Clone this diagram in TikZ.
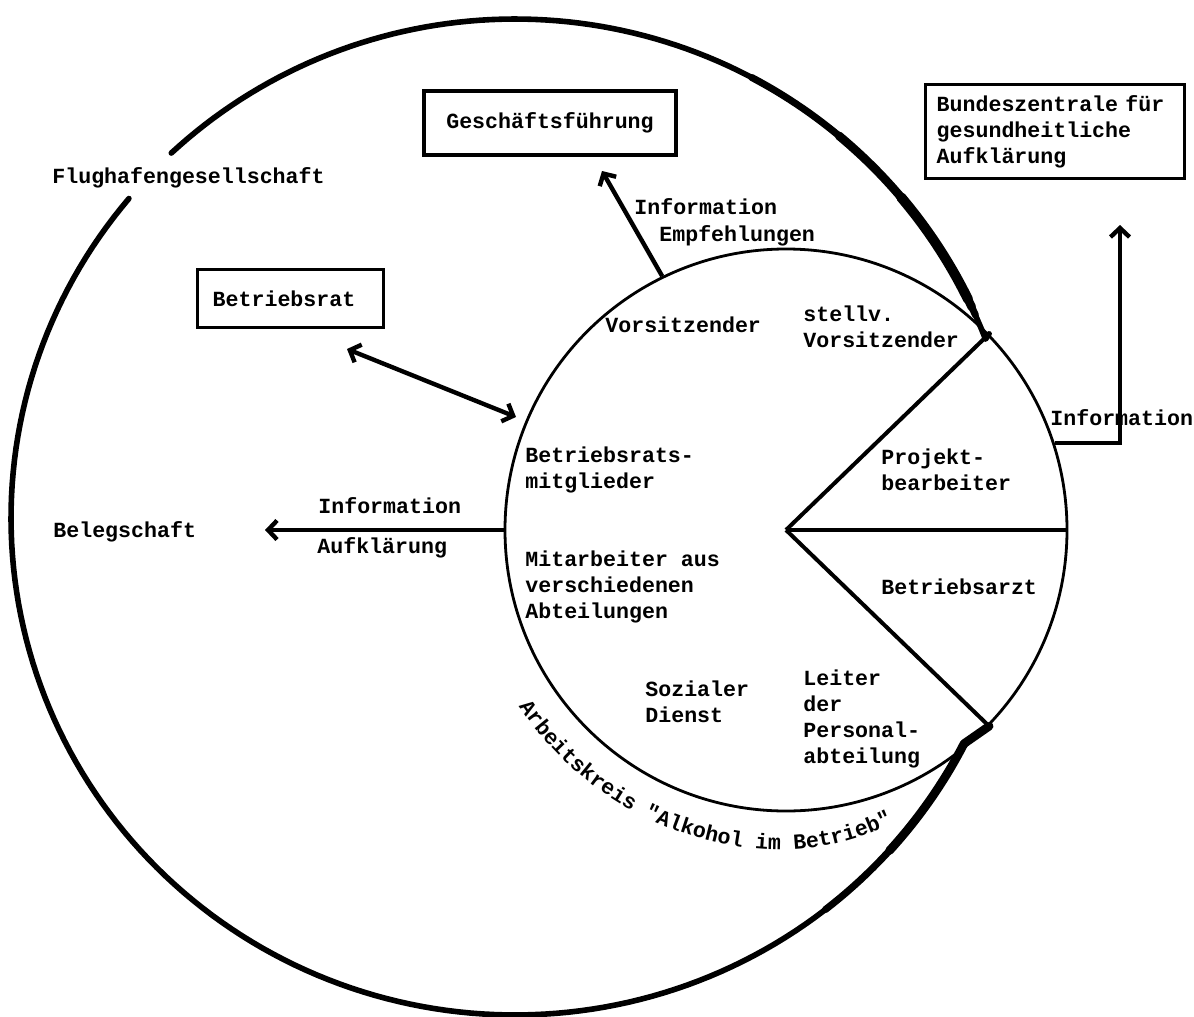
\documentclass[tikz,border=0pt]{standalone}
\usepackage{fontspec}
\newfontfamily\tw{Liberation Mono}
\usetikzlibrary{arrows.meta,decorations.text}
\tikzset{
  lbl/.style={font=\tw\bfseries\fontsize{10.8pt}{13pt}\selectfont, inner sep=0pt, anchor=base west, align=left},
  boxnode/.style={draw, line width=1.7pt, font=\tw\bfseries\fontsize{10.8pt}{13pt}\selectfont, align=left},
  outerline/.style={line width=2.8pt, line cap=round, line join=round},
  pieline/.style={line width=2pt},
  conn/.style={line width=2.2pt, -{Straight Barb[length=4.5pt,width=9.5pt]}},
  conntwo/.style={line width=2.2pt, {Straight Barb[length=4.5pt,width=9.5pt]}-{Straight Barb[length=4.5pt,width=9.5pt]}}
}
\begin{document}
\begin{tikzpicture}[x=0.5pt,y=-0.5pt]
\useasboundingbox (0,0) rectangle (1194,1017);

% inner circle (Arbeitskreis)
\node[circle, draw, line width=1.4pt, minimum size=281pt, inner sep=0pt] (ak) at (786,530) {};

% outer boundary (Flughafengesellschaft), thicker towards the right ends
\draw[outerline] (ak.44) -- plot[domain=21:133, samples=90] ({515+504*cos(\x)},{518-499*sin(\x)});
\draw[line width=3.5pt, line cap=round] plot[domain=24:62, samples=40] ({515+504*cos(\x)},{518-499*sin(\x)});
\draw[line width=4.3pt, line cap=round] plot[domain=25:50, samples=30] ({515+504*cos(\x)},{518-499*sin(\x)});
\draw[line width=5pt, line cap=round] plot[domain=26:40, samples=20] ({515+504*cos(\x)},{518-499*sin(\x)});
\draw[outerline] plot[domain=140:333, samples=140] ({515+504*cos(\x)},{518-497*sin(\x)}) -- (ak.-44);
\draw[line width=3.5pt, line cap=round, line join=round] plot[domain=308:333, samples=25] ({515+504*cos(\x)},{518-497*sin(\x)}) -- (ak.-44);
\draw[line width=4.3pt, line cap=round, line join=round] plot[domain=318:333, samples=20] ({515+504*cos(\x)},{518-497*sin(\x)}) -- (ak.-44);

% pie sectors
\draw[pieline] (ak.center) -- (ak.44);
\draw[pieline] (ak.center) -- (ak.east);
\draw[pieline] (ak.center) -- (ak.-44);

% boxes
\node[boxnode, minimum width=126pt, minimum height=32pt, align=center] (gf) at (550,123) {Geschäftsführung};
\node[boxnode, anchor=north west, text width=118.5pt, inner xsep=5.5pt, minimum height=47pt] (bz) at (924,83) {Bundeszentrale für\\gesundheitliche\\Aufklärung};
\node[boxnode, anchor=north west, text width=78pt, inner xsep=7.5pt, minimum height=29pt] (br) at (196,268) {Betriebsrat};

% connector ends
\coordinate (gftip) at (602,171);
\coordinate (brtip) at (347,349);
\coordinate (aktip) at (516,417);
\coordinate (beltip) at (265,530);
\coordinate (bztip) at (1120,225);

\draw[conn] (ak.116) -- (gftip);
\draw[conntwo] (brtip) -- (aktip);
\draw[conn] (ak.west) -- (beltip);
\draw[conn] (ak.18.5) -| (bztip);

% labels outside
\node[lbl] (flug) at (52,183) {Flughafengesellschaft};
\node[lbl] (beleg) at (53,537) {Belegschaft};
\node[lbl] (infol) at (318,513) {Information};
\node[lbl] (aufkl) at (317,553) {Aufklärung};
\node[lbl] (infot) at (634,214) {Information};
\node[lbl] (empf) at (659,241) {Empfehlungen};
\node[lbl] (infor) at (1050,425) {Information};

% labels inside (anchor at baseline of last line)
\node[lbl] (vors) at (605,332) {Vorsitzender};
\node[lbl] (stv) at (803,347) {stellv.\\Vorsitzender};
\node[lbl] (brm) at (525,488) {Betriebsrats-\\mitglieder};
\node[lbl] (mit) at (525,618) {Mitarbeiter aus\\verschiedenen\\Abteilungen};
\node[lbl] (soz) at (645,722) {Sozialer\\Dienst};
\node[lbl] (leit) at (803,763) {Leiter\\der\\Personal-\\abteilung};
\node[lbl] (proj) at (881,490) {Projekt-\\bearbeiter};
\node[lbl] (arzt) at (881,594) {Betriebsarzt};

% curved title
\path[decorate, decoration={text along path, text align=center,
  text={|\tw\bfseries\fontsize{10.8pt}{13pt}\selectfont|Arbeitskreis "Alkohol im Betrieb"}}]
  (ak.center) ++(211:160pt) arc[start angle=211, end angle=265, radius=160pt]
  arc[start angle=265, end angle=300, radius=125pt];
\end{tikzpicture}
\end{document}
